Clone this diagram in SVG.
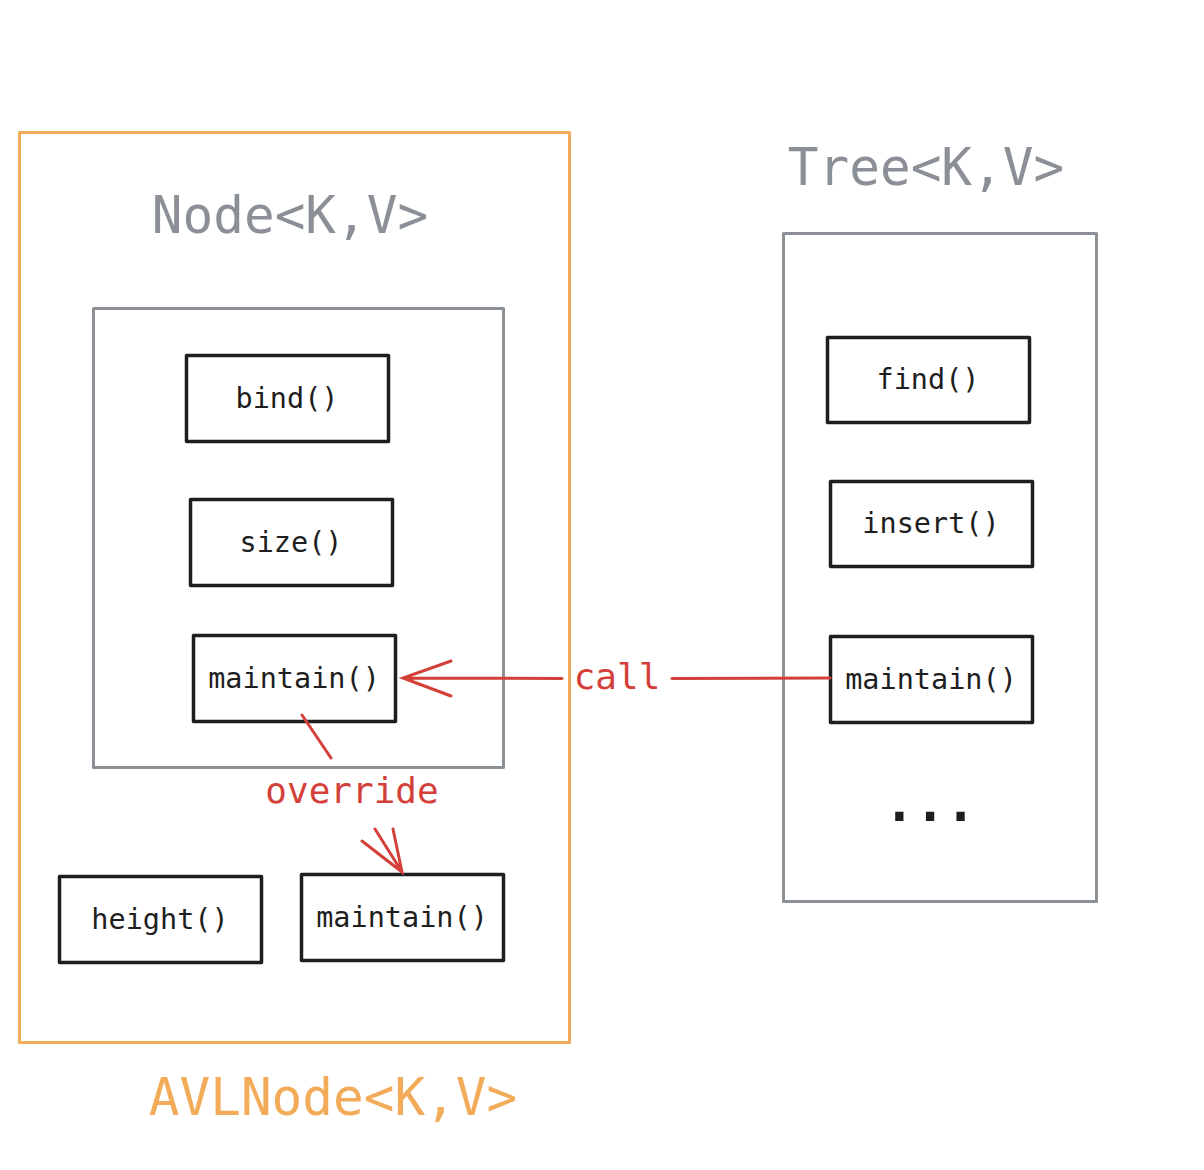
<svg xmlns="http://www.w3.org/2000/svg" width="1204" height="1170" viewBox="0 0 1204 1170">
<style>
text{font-family:"DejaVu Sans Mono","Liberation Mono",monospace;text-anchor:middle}
.box{fill:#fff;stroke:#1e1e1e;stroke-width:3.5;stroke-linejoin:round}
.btxt{font-size:28.5px;fill:#1e1e1e}
.gray{fill:none;stroke:#8b9096;stroke-width:3;stroke-linejoin:round}
.orange{fill:none;stroke:#f2ac59;stroke-width:3;stroke-linejoin:round}
.title{font-size:51px}
.red{stroke:#d43f3a;stroke-width:3;fill:none;stroke-linecap:round}
.rtxt{fill:#d43f3a;font-size:36px}
</style>
<rect width="1204" height="1170" fill="#fff"/>
<g id="avlnode">
<rect class="orange" x="19.5" y="132.5" width="550" height="910"/>
<text class="title" x="333" y="1115" fill="#f2ac59">AVLNode&lt;K,V&gt;</text>
</g>
<g id="node">
<rect class="gray" x="93.5" y="308.5" width="410" height="459"/>
<text class="title" x="290" y="233" fill="#8b9096">Node&lt;K,V&gt;</text>
</g>
<g id="tree">
<rect class="gray" x="783.5" y="233.5" width="313" height="668"/>
<text class="title" x="926" y="185" fill="#8b9096">Tree&lt;K,V&gt;</text>
</g>
<g id="bind"><rect class="box" x="186.5" y="355.5" width="202" height="86"/><text class="btxt" x="287" y="408">bind()</text></g>
<g id="size"><rect class="box" x="190.5" y="499.5" width="202" height="86"/><text class="btxt" x="291" y="552">size()</text></g>
<g id="node-maintain"><rect class="box" x="193.5" y="635.5" width="202" height="86"/><text class="btxt" x="294" y="688">maintain()</text></g>
<g id="height"><rect class="box" x="59.5" y="876.5" width="202" height="86"/><text class="btxt" x="160" y="929">height()</text></g>
<g id="avl-maintain"><rect class="box" x="301.5" y="874.5" width="202" height="86"/><text class="btxt" x="402" y="927">maintain()</text></g>
<g id="find"><rect class="box" x="827.5" y="337.5" width="202" height="85"/><text class="btxt" x="928" y="389">find()</text></g>
<g id="insert"><rect class="box" x="830.5" y="481.5" width="202" height="85"/><text class="btxt" x="931" y="533">insert()</text></g>
<g id="tree-maintain"><rect class="box" x="830.5" y="636.5" width="202" height="86"/><text class="btxt" x="931" y="689">maintain()</text></g>
<g id="ellipsis"><text x="930" y="821" font-size="51" font-weight="bold" fill="#1e1e1e">...</text></g>
<g id="connectors">
<path class="red" d="M830 678 L672 678.5"/>
<path class="red" d="M562 678.5 L403 678 M451 661 L403 678 L451 696"/>
<text class="rtxt" x="617" y="689" font-size="35">call</text>
<path class="red" d="M302 715 L331 758"/>
<path class="red" d="M393 829 L402 872 L362 841 M375 829 L402 872"/>
<text class="rtxt" x="352" y="803">override</text>
</g>
</svg>
